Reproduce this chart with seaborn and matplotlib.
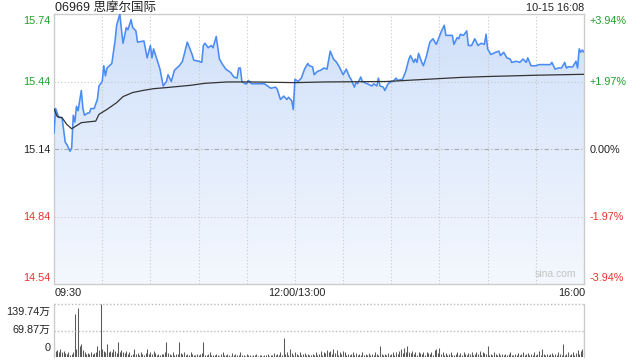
import numpy as np
import pandas as pd
import matplotlib
matplotlib.use("Agg")
import matplotlib.pyplot as plt
import seaborn as sns
from matplotlib.colors import LinearSegmentedColormap
from matplotlib.patches import PathPatch

# ---------------- data ----------------
title = "06969 思摩尔国际"
stamp = "10-15 16:08"
prev_close = 15.14
price_levels = [15.74, 15.44, 15.14, 14.84, 14.54]
pct_labels = ["+3.94%", "+1.97%", "0.00%", "-1.97%", "-3.94%"]
time_labels = ["09:30", "12:00/13:00", "16:00"]
vol_labels = ["139.74万", "69.87万", "0"]
vol_max = 139.74

# trading minute since 09:30 (lunch break removed), price
price_t = [0, 1, 3, 5, 7, 8, 10, 11, 12, 13, 14, 15, 17, 18, 19, 21, 22, 23, 25, 27,
           28, 30, 31, 32, 33, 36, 38, 39, 41, 42, 43, 45, 46, 48, 49, 51, 52, 56, 58, 60,
           61, 62, 64, 66, 68, 70, 71, 73, 75, 78, 80, 83, 86, 87, 90, 92, 93, 94, 96, 98,
           99, 101, 103, 105, 107, 110, 112, 114, 115, 116, 117, 119, 120, 121, 123, 131, 133, 135, 138, 139,
           141, 143, 145, 146, 148, 149, 150, 152, 154, 156, 158, 159, 161, 162, 164, 166, 168, 170, 172, 174,
           176, 178, 180, 182, 184, 185, 187, 188, 189, 191, 192, 195, 198, 199, 201, 202, 203, 205, 206, 208,
           210, 211, 213, 214, 217, 219, 221, 222, 224, 225, 226, 227, 229, 230, 232, 234, 236, 238, 240, 241,
           243, 244, 248, 249, 251, 252, 253, 255, 257, 258, 260, 262, 264, 266, 268, 269, 270, 272, 275, 277,
           278, 280, 282, 284, 285, 288, 290, 292, 294, 295, 297, 300, 302, 309, 310, 312, 314, 316, 318, 319,
           320, 323, 325, 326, 327, 328, 329, 330]
price_v = [15.21, 15.32, 15.28, 15.28, 15.17, 15.16, 15.13, 15.145, 15.29, 15.26, 15.33, 15.31, 15.40, 15.32, 15.29, 15.30, 15.30, 15.32, 15.32, 15.36,
           15.42, 15.44, 15.51, 15.465, 15.50, 15.52, 15.62, 15.69, 15.74, 15.67, 15.61, 15.68, 15.67, 15.715, 15.68, 15.665, 15.615, 15.62, 15.545, 15.60,
           15.545, 15.585, 15.54, 15.495, 15.42, 15.44, 15.47, 15.44, 15.49, 15.51, 15.53, 15.615, 15.56, 15.535, 15.53, 15.525, 15.60, 15.61, 15.59, 15.60,
           15.59, 15.64, 15.54, 15.515, 15.495, 15.48, 15.46, 15.455, 15.50, 15.50, 15.44, 15.43, 15.43, 15.445, 15.43, 15.43, 15.42, 15.41, 15.415, 15.405,
           15.36, 15.375, 15.36, 15.37, 15.355, 15.315, 15.45, 15.44, 15.455, 15.495, 15.52, 15.51, 15.505, 15.47, 15.485, 15.49, 15.50, 15.495, 15.575, 15.54,
           15.525, 15.50, 15.47, 15.495, 15.46, 15.45, 15.415, 15.435, 15.43, 15.46, 15.44, 15.43, 15.42, 15.43, 15.42, 15.455, 15.42, 15.415, 15.40, 15.43,
           15.44, 15.44, 15.455, 15.445, 15.45, 15.485, 15.54, 15.555, 15.525, 15.54, 15.525, 15.565, 15.525, 15.51, 15.555, 15.615, 15.63, 15.605, 15.64, 15.66,
           15.69, 15.645, 15.645, 15.605, 15.635, 15.63, 15.65, 15.645, 15.665, 15.60, 15.60, 15.63, 15.60, 15.61, 15.605, 15.65, 15.585, 15.56, 15.57, 15.575,
           15.555, 15.57, 15.545, 15.54, 15.525, 15.53, 15.525, 15.54, 15.525, 15.545, 15.51, 15.51, 15.515, 15.515, 15.525, 15.495, 15.50, 15.50, 15.525, 15.50,
           15.505, 15.505, 15.53, 15.50, 15.585, 15.57, 15.58, 15.57]

avg_t = [0, 2, 5, 8, 11, 13, 17, 22, 26, 28, 33, 39, 43, 49, 56, 62, 70, 85, 94, 108,
         123, 150, 169, 207, 253, 269, 301, 330]
avg_v = [15.319, 15.284, 15.279, 15.249, 15.230, 15.239, 15.257, 15.261, 15.264, 15.294,
         15.316, 15.346, 15.373, 15.391, 15.401, 15.408, 15.413, 15.423, 15.432, 15.438,
         15.438, 15.435, 15.438, 15.440, 15.458, 15.462, 15.468, 15.472]

# volume per trading minute, in 万 shares
volume = [34, 15, 18, 12, 20, 14, 16, 10, 8, 12,
          6, 9, 14, 113, 22, 128, 28, 34, 18, 12,
          8, 10, 9, 12, 7, 10, 14, 30, 18, 139,
          20, 16, 14, 34, 12, 16, 13, 22, 15, 10,
          39, 12, 18, 14, 10, 16, 8, 12, 6, 9,
          22, 7, 10, 5, 14, 8, 6, 10, 20, 9,
          12, 7, 15, 10, 6, 8, 5, 9, 7, 12,
          39, 10, 8, 6, 14, 5, 9, 7, 40, 10,
          8, 14, 6, 9, 5, 12, 7, 4, 6, 8,
          5, 7, 10, 40, 6, 4, 8, 12, 5, 6,
          4, 9, 6, 3, 7, 12, 5, 4, 8, 6,
          3, 10, 5, 7, 4, 6, 12, 4, 5, 3,
          8, 4, 6, 3, 5, 4, 7, 3, 4, 6,
          3, 5, 4, 8, 3, 6, 4, 10, 5, 7,
          4, 12, 6, 50, 8, 14, 6, 20, 10, 5,
          12, 8, 6, 14, 4, 7, 10, 5, 8, 4,
          6, 9, 4, 12, 5, 8, 16, 6, 14, 10,
          18, 12, 16, 8, 20, 10, 18, 6, 14, 8,
          16, 12, 6, 9, 4, 8, 12, 6, 10, 4,
          8, 5, 14, 6, 9, 4, 10, 6, 8, 5,
          12, 9, 6, 30, 8, 5, 7, 4, 10, 6,
          8, 12, 6, 14, 9, 16, 20, 10, 24, 12,
          28, 14, 10, 16, 8, 12, 6, 14, 10, 8,
          12, 6, 14, 10, 8, 12, 6, 18, 22, 10,
          24, 8, 12, 6, 10, 5, 8, 12, 6, 4,
          8, 12, 5, 10, 6, 14, 8, 5, 10, 7,
          12, 6, 9, 14, 8, 16, 6, 12, 10, 8,
          28, 6, 9, 5, 12, 7, 4, 10, 6, 8,
          5, 9, 4, 7, 12, 6, 5, 8, 4, 10,
          6, 8, 14, 5, 7, 10, 4, 9, 6, 12,
          5, 7, 16, 6, 20, 8, 5, 9, 4, 7,
          10, 6, 8, 5, 12, 7, 4, 34, 6, 9,
          12, 5, 8, 14, 6, 10, 18, 7, 16, 20,
          63]

# ---------------- style ----------------
sns.set_theme(style="white")
plt.rcParams["font.family"] = ["Liberation Sans", "Noto Sans CJK SC", "DejaVu Sans"]

W, H = 640, 360
GREEN = "#1f9e2c"
RED = "#e8332b"
BLACK = "#222222"
GRID = "#c8c8c8"
BORDER = "#cccccc"

fig = plt.figure(figsize=(6.4, 3.6), dpi=100)
fig.patch.set_facecolor("white")

def fx(x):
    return x / W

def fy(y):
    return 1 - y / H

L, R = 54, 584
ax = fig.add_axes([fx(L), fy(284), fx(R - L), (284 - 14) / H])
axv = fig.add_axes([fx(L), fy(357), fx(R - L), (357 - 304) / H])

T0, T1 = 0, 330
ymin, ymax = price_levels[-1], price_levels[0]

df = pd.DataFrame({"t": price_t, "p": price_v})
dfa = pd.DataFrame({"t": avg_t, "p": avg_v})

# gradient area under the price line
cmap = LinearSegmentedColormap.from_list("g", ["#f4f8fe", "#d0e0fa"])
grad = np.linspace(0, 1, 256).reshape(-1, 1)
im = ax.imshow(grad, extent=[T0, T1, ymin, ymax], origin="lower", aspect="auto",
               cmap=cmap, zorder=1, interpolation="bilinear")
poly = ax.fill_between(df["t"], df["p"], ymin, facecolor="none", edgecolor="none")
patch = PathPatch(poly.get_paths()[0], transform=ax.transData, facecolor="none", edgecolor="none")
ax.add_patch(patch)
im.set_clip_path(patch)

# grid
for i in range(1, 11):
    ax.axvline(i * 30, color=GRID, ls=(0, (1, 2)), lw=0.8, zorder=2)
for lv in (price_levels[1], price_levels[3]):
    ax.axhline(lv, color=GRID, ls=(0, (1, 2)), lw=0.8, zorder=2)
ax.axhline(prev_close, color="#aaaaaa", ls=(0, (4, 2, 1, 2)), lw=0.8, zorder=2)

sns.lineplot(data=df, x="t", y="p", ax=ax, color="#4a8cf2", lw=1.15, estimator=None, sort=False, zorder=4)
sns.lineplot(data=dfa, x="t", y="p", ax=ax, color="#333333", lw=0.9, estimator=None, sort=False, zorder=5)

ax.set_xlim(T0, T1)
ax.set_ylim(ymin, ymax)
ax.set_xticks([])
ax.set_yticks([])
ax.set_xlabel("")
ax.set_ylabel("")
for s in ax.spines.values():
    s.set_color(BORDER)
    s.set_linewidth(1.0)
    s.set_visible(True)

ax.text(0.985, 0.02, "sina.com", transform=ax.transAxes, ha="right", va="bottom",
        color="#c4c4c4", fontsize=7.5, zorder=6)

# volume panel
mins = np.arange(len(volume))
axv.vlines(mins, 0, volume, color="#5a5a5a", lw=0.75)
axv.set_xlim(T0, T1)
axv.set_ylim(0, vol_max)
axv.set_xticks([])
axv.set_yticks([])
axv.axhline(vol_max, color="#bbbbbb", ls=(0, (1, 1.5)), lw=1.0, clip_on=False)
axv.axhline(vol_max / 2, color="#bbbbbb", ls=(0, (1, 1.5)), lw=1.0)
for k, s in axv.spines.items():
    s.set_color(BORDER)
    s.set_linewidth(1.0)
axv.spines["top"].set_visible(False)
axv.spines["bottom"].set_visible(False)

# texts
fs = 7.8
fig.text(fx(55), fy(8), title, ha="left", va="center", fontsize=9, color=BLACK)
fig.text(fx(584), fy(8), stamp, ha="right", va="center", fontsize=fs, color=BLACK)

left_y = [20.5, 82, 149.5, 217, 278]
cols = [GREEN, GREEN, BLACK, RED, RED]
for lv, yy, c, pl in zip(price_levels, left_y, cols, pct_labels):
    fig.text(fx(50.5), fy(yy), f"{lv:.2f}", ha="right", va="center", fontsize=fs, color=c)
    fig.text(fx(590), fy(yy), pl, ha="left", va="center", fontsize=fs, color=c)

fig.text(fx(55), fy(293), time_labels[0], ha="left", va="center", fontsize=fs, color=BLACK)
fig.text(fx(297), fy(293), time_labels[1], ha="center", va="center", fontsize=fs, color=BLACK)
fig.text(fx(585), fy(293), time_labels[2], ha="right", va="center", fontsize=fs, color=BLACK)

for lab, yy in zip(vol_labels, [311.5, 330, 348]):
    fig.text(fx(50.5), fy(yy), lab, ha="right", va="center", fontsize=fs, color=BLACK)

fig.savefig("out.png", dpi=100, facecolor="white")
